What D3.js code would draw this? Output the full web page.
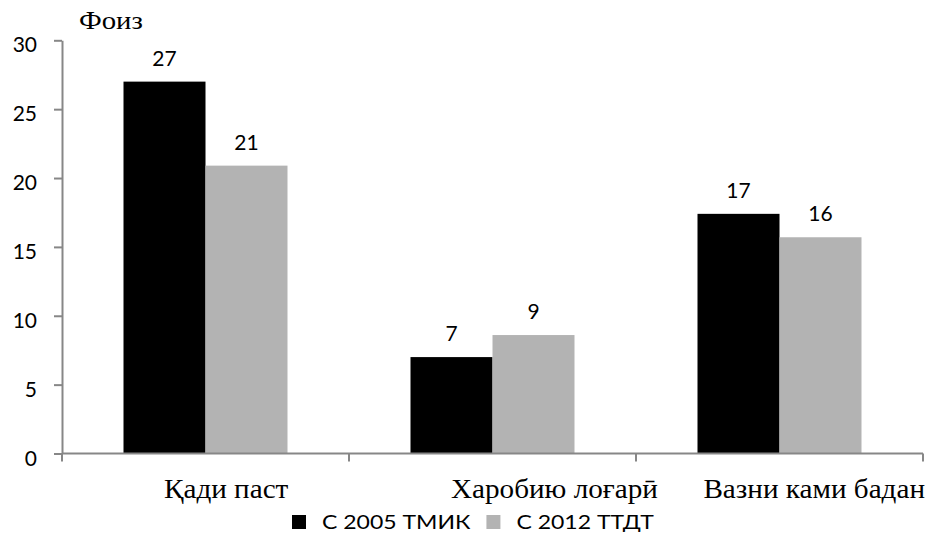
<!DOCTYPE html>
<html>
<head>
<meta charset="utf-8">
<script src="https://cdn.jsdelivr.net/npm/d3@7"></script>
<style>
  body { margin: 0; background: #fff; }
  svg { display: block; }
</style>
</head>
<body>
<svg id="chart" width="929" height="533"></svg>
<script>
// data
var categories = ["Қади паст", "Харобию лоғарӣ", "Вазни ками бадан"];
var series = ["С 2005 ТМИК", "С 2012 ТТДТ"];
var values2005 = [27, 7, 17.4];
var values2012 = [20.9, 8.6, 15.7];
var yTicks = [0, 5, 10, 15, 20, 25, 30];
var colors = ["#000000", "#b3b3b3"];

var svg = d3.select("#chart");
var axisColor = "#878787";
var sans = "Lato, 'Open Sans', sans-serif";
var serif = "'Liberation Serif', 'DejaVu Serif', serif";

// the original text is a bit wider than these fonts, stretch it
function stretch(sel, k) {
  sel.each(function() {
    var w = this.getComputedTextLength();
    d3.select(this).attr("textLength", w * k).attr("lengthAdjust", "spacingAndGlyphs");
  });
}

var x0 = d3.scaleBand().domain(categories).range([62, 923]).paddingInner(0).paddingOuter(0);
var x1 = d3.scaleBand().domain(series).range([0, x0.bandwidth()]).paddingInner(0).paddingOuter(0.75);
var y = d3.scaleLinear().domain([0, 30]).range([453.5, 40.3]);

var rows = categories.map(function(c, i) {
  return { cat: c, vals: [values2005[i], values2012[i]] };
});

// bars
var groups = svg.selectAll("g.cat")
  .data(rows)
  .enter().append("g")
  .attr("class", "cat")
  .attr("transform", function(d) { return "translate(" + x0(d.cat) + ",0)"; });

groups.selectAll("rect")
  .data(function(d) { return d.vals.map(function(v, j) { return { s: series[j], v: v, j: j }; }); })
  .enter().append("rect")
  .attr("x", function(d) { return x1(d.s); })
  .attr("y", function(d) { return y(d.v); })
  .attr("width", x1.bandwidth())
  .attr("height", function(d) { return y(0) - y(d.v); })
  .attr("fill", function(d) { return colors[d.j]; });

// value labels
groups.selectAll("text")
  .data(function(d) { return d.vals.map(function(v, j) { return { s: series[j], v: v }; }); })
  .enter().append("text")
  .attr("x", function(d) { return x1(d.s) + x1.bandwidth() / 2; })
  .attr("y", function(d) { return y(d.v) - 16; })
  .attr("text-anchor", "middle")
  .style("font-family", sans)
  .style("font-size", "21px")
  .style("fill", "#000")
  .text(function(d) { return d3.format(".0f")(d.v); });

// y axis
var yAxis = svg.append("g")
  .attr("transform", "translate(62,0)")
  .call(d3.axisLeft(y).tickValues(yTicks).tickSize(8).tickSizeOuter(0).tickPadding(17));
yAxis.select(".domain").attr("stroke", axisColor).attr("stroke-width", 2);
yAxis.selectAll(".tick line").attr("stroke", axisColor).attr("stroke-width", 2);
yAxis.selectAll(".tick text")
  .attr("dy", "0.55em")
  .style("font-family", sans)
  .style("font-size", "21px")
  .style("fill", "#000");

// x axis line with ticks at category boundaries
svg.append("line")
  .attr("x1", 62).attr("x2", x0.range()[1])
  .attr("y1", y(0)).attr("y2", y(0))
  .attr("stroke", axisColor).attr("stroke-width", 2);

var bounds = categories.map(function(c) { return x0(c); }).concat([x0.range()[1]]);
svg.selectAll("line.xtick")
  .data(bounds)
  .enter().append("line")
  .attr("class", "xtick")
  .attr("x1", function(d) { return d; }).attr("x2", function(d) { return d; })
  .attr("y1", y(0)).attr("y2", y(0) + 8)
  .attr("stroke", axisColor).attr("stroke-width", 2);

// category labels (shifted right like the original, kept inside the frame)
var catText = svg.selectAll("text.cat")
  .data(categories)
  .enter().append("text")
  .attr("class", "cat")
  .attr("y", 498)
  .style("font-family", serif)
  .style("font-size", "27px")
  .style("fill", "#000")
  .text(function(d) { return d; });
stretch(catText, 1.08);
catText.attr("x", function(d) {
  var w = +this.getAttribute("textLength");
  return Math.min(x0(d) + 102, 925 - w);
});

// axis title
var title = svg.append("text")
  .attr("x", 79).attr("y", 29)
  .style("font-family", serif)
  .style("font-size", "25px")
  .style("fill", "#000")
  .text("Фоиз");
stretch(title, 1.15);

// legend
var legend = svg.append("g").attr("transform", "translate(292,515)");
var lx = 0;
series.forEach(function(s, i) {
  var g = legend.append("g").attr("transform", "translate(" + lx + ",0)");
  g.append("rect").attr("width", 14).attr("height", 14).attr("fill", colors[i]);
  var t = g.append("text")
    .attr("x", 30).attr("y", 14)
    .style("font-family", sans)
    .style("font-size", "20px")
    .style("fill", "#000")
    .text(s);
  stretch(t, 1.15);
  lx += 30 + (+t.attr("textLength")) + 16;
});
</script>
</body>
</html>
